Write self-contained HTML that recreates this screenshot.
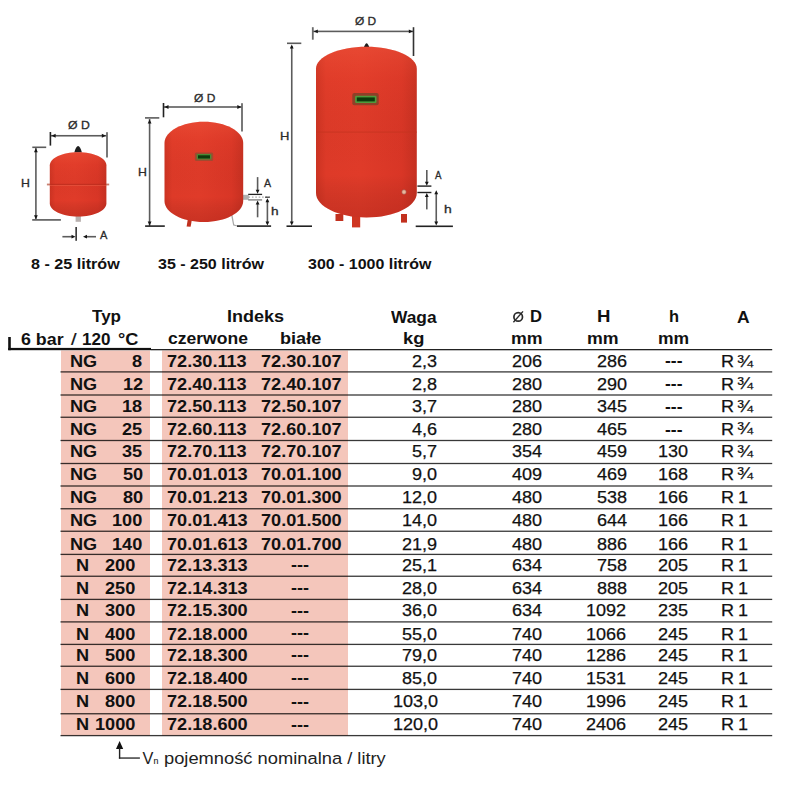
<!DOCTYPE html>
<html><head><meta charset="utf-8"><style>
html,body{margin:0;padding:0;background:#fff;width:800px;height:800px;overflow:hidden;position:relative}
.t{position:absolute;font-family:"Liberation Sans",sans-serif;line-height:1;white-space:pre;transform-origin:0 0}
</style></head><body>
<svg width="800" height="800" viewBox="0 0 800 800" style="position:absolute;left:0;top:0">
<defs>
<linearGradient id="tg" x1="0" y1="0" x2="1" y2="0">
<stop offset="0" stop-color="#cc3322"/><stop offset="0.1" stop-color="#de3a28"/><stop offset="0.45" stop-color="#e03b29"/><stop offset="0.85" stop-color="#d93626"/><stop offset="1" stop-color="#c63021"/>
</linearGradient>
<linearGradient id="tv" x1="0" y1="0" x2="0" y2="1">
<stop offset="0" stop-color="#ff7050" stop-opacity="0.25"/><stop offset="0.2" stop-color="#ff6040" stop-opacity="0.06"/><stop offset="0.75" stop-color="#000" stop-opacity="0"/><stop offset="1" stop-color="#500" stop-opacity="0.15"/>
</linearGradient>
</defs>
<rect x="61" y="350.5" width="89" height="385.10" fill="#f4c6bb"/>
<rect x="162" y="350.5" width="186" height="385.10" fill="#f4c6bb"/>
<rect x="8.2" y="347.9" width="142.8" height="2.3" fill="#111"/>
<rect x="8.2" y="337" width="2.6" height="13.2" fill="#111"/>
<rect x="151" y="349" width="621.2" height="1.3" fill="#222"/>
<rect x="60.5" y="371.25" width="711.7" height="1.3" fill="#000" fill-opacity="0.78"/>
<rect x="60.5" y="394.35" width="711.7" height="1.3" fill="#000" fill-opacity="0.78"/>
<rect x="60.5" y="416.60" width="711.7" height="1.3" fill="#000" fill-opacity="0.78"/>
<rect x="60.5" y="439.85" width="711.7" height="1.3" fill="#000" fill-opacity="0.78"/>
<rect x="60.5" y="462.85" width="711.7" height="1.3" fill="#000" fill-opacity="0.78"/>
<rect x="60.5" y="485.35" width="711.7" height="1.3" fill="#000" fill-opacity="0.78"/>
<rect x="60.5" y="508.10" width="711.7" height="1.3" fill="#000" fill-opacity="0.78"/>
<rect x="60.5" y="530.60" width="711.7" height="1.3" fill="#000" fill-opacity="0.78"/>
<rect x="60.5" y="553.75" width="711.7" height="1.3" fill="#000" fill-opacity="0.78"/>
<rect x="60.5" y="575.60" width="711.7" height="1.3" fill="#000" fill-opacity="0.78"/>
<rect x="60.5" y="598.75" width="711.7" height="1.3" fill="#000" fill-opacity="0.78"/>
<rect x="60.5" y="621.25" width="711.7" height="1.3" fill="#000" fill-opacity="0.78"/>
<rect x="60.5" y="643.75" width="711.7" height="1.3" fill="#000" fill-opacity="0.78"/>
<rect x="60.5" y="665.60" width="711.7" height="1.3" fill="#000" fill-opacity="0.78"/>
<rect x="60.5" y="688.75" width="711.7" height="1.3" fill="#000" fill-opacity="0.78"/>
<rect x="60.5" y="713.10" width="711.7" height="1.3" fill="#000" fill-opacity="0.78"/>
<rect x="60.5" y="734.95" width="711.7" height="1.3" fill="#000" fill-opacity="0.78"/>
<path d="M119.6 741 L116 749 L123.2 749 Z" fill="#111"/>
<rect x="118.9" y="748" width="1.4" height="10.6" fill="#222"/>
<rect x="118.9" y="757.4" width="21" height="1.3" fill="#222"/>
<circle cx="518.2" cy="316.9" r="4.3" fill="none" stroke="#2a2a2a" stroke-width="1.7"/>
<line x1="513.4" y1="322.2" x2="523" y2="311.4" stroke="#2a2a2a" stroke-width="1.4"/>
<path d="M74.3 152.5 C75.3 148.5 76.8 146 78.1 146 C79.4 146 80.9 148.5 81.9 152.5 Z" fill="#1e1e1e"/>
<rect x="75.6" y="214" width="5.3" height="7.8" fill="#b8b0ae"/>
<path d="M49.8,165.2 C49.8,158.024 62.4784,152.2 78.1,152.2 C93.72160000000001,152.2 106.4,158.024 106.4,165.2 L106.4,203.4 C106.4,210.576 93.72160000000001,216.4 78.1,216.4 C62.4784,216.4 49.8,210.576 49.8,203.4 Z" fill="url(#tg)"/>
<path d="M49.8,165.2 C49.8,158.024 62.4784,152.2 78.1,152.2 C93.72160000000001,152.2 106.4,158.024 106.4,165.2 L106.4,203.4 C106.4,210.576 93.72160000000001,216.4 78.1,216.4 C62.4784,216.4 49.8,210.576 49.8,203.4 Z" fill="url(#tv)"/>
<rect x="46.9" y="183.6" width="3.2" height="1.8" fill="#c98070"/>
<rect x="106" y="183.6" width="3.2" height="1.8" fill="#c98070"/>
<rect x="49.8" y="183.8" width="56.6" height="1.2" fill="#b92c1c" opacity="0.7"/>
<rect x="49.8" y="185" width="56.6" height="0.8" fill="#f06a50" opacity="0.5"/>
<rect x="50.4" y="134.95" width="56.60" height="1.6" fill="#5c5c5c"/>
<rect x="49.60" y="132" width="1.6" height="13.60" fill="#222"/>
<rect x="106.10" y="132.2" width="1.8" height="25.30" fill="#6a6a6a"/>
<path d="M51.6,135.75 L55.6,133.85 L55.6,137.65 Z" fill="#151515"/>
<path d="M105.8,135.75 L101.8,133.85 L101.8,137.65 Z" fill="#151515"/>
<rect x="35.10" y="147.5" width="1.6" height="72.40" fill="#5c5c5c"/>
<rect x="32.3" y="146.50" width="13.90" height="1.6" fill="#5c5c5c"/>
<rect x="32.2" y="219.00" width="28.70" height="1.8" fill="#6a6a6a"/>
<path d="M35.9,148.3 L34.0,152.3 L37.8,152.3 Z" fill="#151515"/>
<path d="M35.9,219.2 L34.0,215.2 L37.8,215.2 Z" fill="#151515"/>
<rect x="75.35" y="227" width="1.6" height="13.80" fill="#333"/>
<rect x="62.4" y="235.90" width="10.60" height="1.6" fill="#5c5c5c"/>
<path d="M75.5,236.7 L71.5,234.79999999999998 L71.5,238.6 Z" fill="#151515"/>
<rect x="85" y="235.90" width="11.00" height="1.6" fill="#5c5c5c"/>
<path d="M83,236.7 L87.0,234.79999999999998 L87.0,238.6 Z" fill="#151515"/>
<path d="M188.2 217 L192.3 217.5 L190.6 226.8 L186.6 226.4 Z" fill="#c0301e"/>
<path d="M231 214.5 L232.4 214.5 L234.2 224.6 L237.5 225.6 L237.5 226.6 L233.2 225.6 Z" fill="#a8a8a8"/>
<rect x="242" y="194.8" width="6.8" height="5" fill="#b0b0b0"/>
<path d="M164.5,143.0 C164.5,131.2424 182.1288,121.7 203.85,121.7 C225.57119999999998,121.7 243.2,131.2424 243.2,143.0 L243.2,201 C243.2,212.592 225.57119999999998,222 203.85,222 C182.1288,222 164.5,212.592 164.5,201 Z" fill="url(#tg)"/>
<path d="M164.5,143.0 C164.5,131.2424 182.1288,121.7 203.85,121.7 C225.57119999999998,121.7 243.2,131.2424 243.2,143.0 L243.2,201 C243.2,212.592 225.57119999999998,222 203.85,222 C182.1288,222 164.5,212.592 164.5,201 Z" fill="url(#tv)"/>
<rect x="194.9" y="152.5" width="18.3" height="8.6" rx="1.5" fill="#a04a30"/>
<rect x="196.7" y="154" width="14.7" height="5.6" rx="1" fill="#4a8a35"/>
<rect x="198" y="155.3" width="12" height="3.2" fill="#0e3a0c"/>
<rect x="163.5" y="106.20" width="78.50" height="1.6" fill="#5c5c5c"/>
<rect x="162.70" y="103" width="1.6" height="14.30" fill="#222"/>
<rect x="241.10" y="103.2" width="1.8" height="28.30" fill="#6a6a6a"/>
<path d="M164.5,107 L168.5,105.1 L168.5,108.9 Z" fill="#151515"/>
<path d="M241.3,107 L237.3,105.1 L237.3,108.9 Z" fill="#151515"/>
<rect x="148.80" y="119" width="1.6" height="107.00" fill="#5c5c5c"/>
<rect x="145" y="117.10" width="14.30" height="1.6" fill="#5c5c5c"/>
<rect x="145.1" y="225.30" width="19.70" height="1.6" fill="#222"/>
<path d="M149.6,119.6 L147.7,123.6 L151.5,123.6 Z" fill="#151515"/>
<path d="M149.6,225.6 L147.7,221.6 L151.5,221.6 Z" fill="#151515"/>
<rect x="248.2" y="193.75" width="13.90" height="1.3" fill="#222"/>
<rect x="248.2" y="199.25" width="13.90" height="1.3" fill="#777"/>
<line x1="248.5" y1="197.1" x2="270" y2="197.1" stroke="#888" stroke-width="0.9" stroke-dasharray="1.6,1.8"/>
<rect x="265.1" y="196.60" width="4.60" height="1.2" fill="#333"/>
<rect x="256.80" y="177.1" width="1.6" height="13.90" fill="#5c5c5c"/>
<path d="M257.6,193.8 L255.70000000000002,189.8 L259.5,189.8 Z" fill="#151515"/>
<rect x="256.80" y="203" width="1.6" height="14.30" fill="#5c5c5c"/>
<path d="M257.6,200.4 L255.70000000000002,204.4 L259.5,204.4 Z" fill="#151515"/>
<rect x="266.60" y="200" width="1.6" height="23.50" fill="#5c5c5c"/>
<path d="M267.4,198.2 L265.5,202.2 L269.29999999999995,202.2 Z" fill="#151515"/>
<path d="M267.4,225.6 L265.5,221.6 L269.29999999999995,221.6 Z" fill="#151515"/>
<rect x="237" y="225.30" width="34.10" height="1.6" fill="#222"/>
<path d="M363.6 47.8 C364.6 45 365.8 43.2 366.6 43.2 C367.4 43.2 368.6 45 369.6 47.8 Z" fill="#1e1e1e"/>
<rect x="335.5" y="214" width="7.8" height="7" fill="#c2301e"/>
<rect x="352" y="214" width="8.2" height="13.4" fill="#cf3521"/>
<rect x="401" y="214" width="6" height="8.6" fill="#c2301e"/>
<path d="M316,68.8 C316,56.656 338.5792,46.8 366.4,46.8 C394.2208,46.8 416.8,56.656 416.8,68.8 L416.8,193.0 C416.8,206.524 394.2208,217.5 366.4,217.5 C338.5792,217.5 316,206.524 316,193.0 Z" fill="url(#tg)"/>
<path d="M316,68.8 C316,56.656 338.5792,46.8 366.4,46.8 C394.2208,46.8 416.8,56.656 416.8,68.8 L416.8,193.0 C416.8,206.524 394.2208,217.5 366.4,217.5 C338.5792,217.5 316,206.524 316,193.0 Z" fill="url(#tv)"/>
<rect x="316" y="131.6" width="100.8" height="1" fill="#c4341f" opacity="0.8"/>
<rect x="352.3" y="92.9" width="26.4" height="12.3" rx="2" fill="#8f4028"/>
<rect x="355.1" y="95.7" width="21.4" height="7.3" rx="1.2" fill="#4f9a3c"/>
<rect x="356.8" y="97.4" width="18" height="4" fill="#0c3a0c"/>
<circle cx="404" cy="192" r="2.2" fill="#e9b79c" stroke="#a0605a" stroke-width="0.6"/>
<rect x="313" y="30.60" width="100.50" height="1.6" fill="#5c5c5c"/>
<rect x="311.90" y="27.2" width="1.8" height="12.50" fill="#6a6a6a"/>
<rect x="412.70" y="27.2" width="1.6" height="28.80" fill="#333"/>
<path d="M313.8,31.4 L317.8,29.5 L317.8,33.3 Z" fill="#151515"/>
<path d="M412.8,31.4 L408.8,29.5 L408.8,33.3 Z" fill="#151515"/>
<rect x="290.95" y="46" width="1.6" height="177.00" fill="#5c5c5c"/>
<rect x="287" y="42.50" width="14.30" height="1.6" fill="#5c5c5c"/>
<rect x="286.5" y="225.40" width="25.50" height="1.6" fill="#222"/>
<path d="M291.75,44.4 L289.85,48.4 L293.65,48.4 Z" fill="#151515"/>
<path d="M291.75,225.5 L289.85,221.5 L293.65,221.5 Z" fill="#151515"/>
<rect x="417.4" y="185.40" width="14.00" height="1.4" fill="#222"/>
<rect x="417.4" y="191.80" width="14.00" height="1.4" fill="#222"/>
<rect x="426.00" y="170" width="1.6" height="13.00" fill="#5c5c5c"/>
<path d="M426.8,185.8 L424.90000000000003,181.8 L428.7,181.8 Z" fill="#151515"/>
<rect x="426.00" y="196" width="1.6" height="13.40" fill="#5c5c5c"/>
<path d="M426.8,193 L424.90000000000003,197.0 L428.7,197.0 Z" fill="#151515"/>
<rect x="435.45" y="193" width="1.6" height="29.50" fill="#5c5c5c"/>
<path d="M436.25,190.2 L434.35,194.2 L438.15,194.2 Z" fill="#151515"/>
<path d="M436.25,225.6 L434.35,221.6 L438.15,221.6 Z" fill="#151515"/>
<rect x="415.7" y="225.50" width="37.20" height="1.6" fill="#222"/>
</svg>
<div class="t" style="left:91.50px;top:308.10px;font-weight:bold;font-size:17.2px;color:#111;transform:scaleX(0.9914);">Typ</div><div class="t" style="left:226.55px;top:308.20px;font-weight:bold;font-size:17.2px;color:#111;transform:scaleX(1.0491);">Indeks</div><div class="t" style="left:391.00px;top:308.50px;font-weight:bold;font-size:17.2px;color:#111;transform:scaleX(1.0089);">Waga</div><div class="t" style="left:737.48px;top:308.50px;font-weight:bold;font-size:17.2px;color:#111;transform:scaleX(1.0182);">A</div><div class="t" style="left:596.92px;top:308.30px;font-weight:bold;font-size:17.2px;color:#111;transform:scaleX(1.0800);">H</div><div class="t" style="left:668.64px;top:308.30px;font-weight:bold;font-size:17.2px;color:#111;transform:scaleX(0.9556);">h</div><div class="t" style="left:529.84px;top:308.00px;font-weight:bold;font-size:17.2px;color:#111;transform:scaleX(0.9636);">D</div><div class="t" style="left:21.26px;top:330.80px;font-weight:bold;font-size:17.2px;color:#111;transform:scaleX(1.0375);">6 bar</div><div class="t" style="left:71.00px;top:331.20px;font-weight:normal;font-size:17.2px;color:#111;transform:scaleX(1.1600);-webkit-text-stroke:0.2px #111;">/</div><div class="t" style="left:82.31px;top:330.80px;font-weight:bold;font-size:17.2px;color:#111;transform:scaleX(0.9926);">120</div><div class="t" style="left:117.94px;top:330.90px;font-weight:bold;font-size:17.2px;color:#111;transform:scaleX(1.0588);">°C</div><div class="t" style="left:167.88px;top:329.70px;font-weight:bold;font-size:17.2px;color:#111;transform:scaleX(1.0208);">czerwone</div><div class="t" style="left:280.45px;top:329.70px;font-weight:bold;font-size:17.2px;color:#111;transform:scaleX(1.0526);">białe</div><div class="t" style="left:402.93px;top:330.40px;font-weight:bold;font-size:17.2px;color:#111;transform:scaleX(1.0667);">kg</div><div class="t" style="left:510.97px;top:329.80px;font-weight:bold;font-size:17.2px;color:#111;transform:scaleX(1.0345);">mm</div><div class="t" style="left:587.22px;top:329.80px;font-weight:bold;font-size:17.2px;color:#111;transform:scaleX(1.0328);">mm</div><div class="t" style="left:657.68px;top:329.80px;font-weight:bold;font-size:17.2px;color:#111;transform:scaleX(1.0190);">mm</div><div class="t" style="left:69.74px;top:353.00px;font-weight:bold;font-size:17.2px;color:#111;transform:scaleX(1.0550);">NG</div><div class="t" style="left:132.41px;top:353.00px;font-weight:bold;font-size:17.2px;color:#111;transform:scaleX(1.0550);">8</div><div class="t" style="left:167.14px;top:353.00px;font-weight:bold;font-size:17.2px;color:#111;transform:scaleX(1.0550);">72.30.113</div><div class="t" style="left:260.84px;top:353.00px;font-weight:bold;font-size:17.2px;color:#111;transform:scaleX(1.0550);">72.30.107</div><div class="t" style="left:412.45px;top:353.00px;font-weight:normal;font-size:17.2px;color:#111;transform:scaleX(1.0500);-webkit-text-stroke:0.25px #111;">2,3</div><div class="t" style="left:511.90px;top:353.00px;font-weight:normal;font-size:17.2px;color:#111;transform:scaleX(1.0500);-webkit-text-stroke:0.25px #111;">206</div><div class="t" style="left:596.60px;top:353.00px;font-weight:normal;font-size:17.2px;color:#111;transform:scaleX(1.0500);-webkit-text-stroke:0.25px #111;">286</div><div class="t" style="left:664.73px;top:352.45px;font-weight:bold;font-size:17.2px;color:#111;transform:scaleX(1.0156);">---</div><div class="t" style="left:720.55px;top:353.00px;font-weight:normal;font-size:17.2px;color:#111;transform:scaleX(1.0500);-webkit-text-stroke:0.25px #111;">R</div><div class="t" style="left:736.88px;top:352.50px;font-weight:normal;font-size:17.2px;color:#111;transform:scaleX(1.1231);-webkit-text-stroke:0.2px #111;">¾</div><div class="t" style="left:69.74px;top:375.75px;font-weight:bold;font-size:17.2px;color:#111;transform:scaleX(1.0550);">NG</div><div class="t" style="left:122.91px;top:375.75px;font-weight:bold;font-size:17.2px;color:#111;transform:scaleX(1.0550);">12</div><div class="t" style="left:167.14px;top:375.75px;font-weight:bold;font-size:17.2px;color:#111;transform:scaleX(1.0550);">72.40.113</div><div class="t" style="left:260.84px;top:375.75px;font-weight:bold;font-size:17.2px;color:#111;transform:scaleX(1.0550);">72.40.107</div><div class="t" style="left:412.45px;top:375.75px;font-weight:normal;font-size:17.2px;color:#111;transform:scaleX(1.0500);-webkit-text-stroke:0.25px #111;">2,8</div><div class="t" style="left:511.90px;top:375.75px;font-weight:normal;font-size:17.2px;color:#111;transform:scaleX(1.0500);-webkit-text-stroke:0.25px #111;">280</div><div class="t" style="left:596.60px;top:375.75px;font-weight:normal;font-size:17.2px;color:#111;transform:scaleX(1.0500);-webkit-text-stroke:0.25px #111;">290</div><div class="t" style="left:664.73px;top:375.25px;font-weight:bold;font-size:17.2px;color:#111;transform:scaleX(1.0156);">---</div><div class="t" style="left:720.55px;top:375.75px;font-weight:normal;font-size:17.2px;color:#111;transform:scaleX(1.0500);-webkit-text-stroke:0.25px #111;">R</div><div class="t" style="left:736.88px;top:375.25px;font-weight:normal;font-size:17.2px;color:#111;transform:scaleX(1.1231);-webkit-text-stroke:0.2px #111;">¾</div><div class="t" style="left:69.74px;top:398.00px;font-weight:bold;font-size:17.2px;color:#111;transform:scaleX(1.0550);">NG</div><div class="t" style="left:121.86px;top:398.00px;font-weight:bold;font-size:17.2px;color:#111;transform:scaleX(1.0550);">18</div><div class="t" style="left:167.14px;top:398.00px;font-weight:bold;font-size:17.2px;color:#111;transform:scaleX(1.0550);">72.50.113</div><div class="t" style="left:260.84px;top:398.00px;font-weight:bold;font-size:17.2px;color:#111;transform:scaleX(1.0550);">72.50.107</div><div class="t" style="left:412.45px;top:398.00px;font-weight:normal;font-size:17.2px;color:#111;transform:scaleX(1.0500);-webkit-text-stroke:0.25px #111;">3,7</div><div class="t" style="left:511.90px;top:398.00px;font-weight:normal;font-size:17.2px;color:#111;transform:scaleX(1.0500);-webkit-text-stroke:0.25px #111;">280</div><div class="t" style="left:596.60px;top:398.00px;font-weight:normal;font-size:17.2px;color:#111;transform:scaleX(1.0500);-webkit-text-stroke:0.25px #111;">345</div><div class="t" style="left:664.73px;top:397.93px;font-weight:bold;font-size:17.2px;color:#111;transform:scaleX(1.0156);">---</div><div class="t" style="left:720.55px;top:398.00px;font-weight:normal;font-size:17.2px;color:#111;transform:scaleX(1.0500);-webkit-text-stroke:0.25px #111;">R</div><div class="t" style="left:736.88px;top:397.50px;font-weight:normal;font-size:17.2px;color:#111;transform:scaleX(1.1231);-webkit-text-stroke:0.2px #111;">¾</div><div class="t" style="left:69.74px;top:420.50px;font-weight:bold;font-size:17.2px;color:#111;transform:scaleX(1.0550);">NG</div><div class="t" style="left:121.86px;top:420.50px;font-weight:bold;font-size:17.2px;color:#111;transform:scaleX(1.0550);">25</div><div class="t" style="left:167.14px;top:420.50px;font-weight:bold;font-size:17.2px;color:#111;transform:scaleX(1.0550);">72.60.113</div><div class="t" style="left:260.84px;top:420.50px;font-weight:bold;font-size:17.2px;color:#111;transform:scaleX(1.0550);">72.60.107</div><div class="t" style="left:412.45px;top:420.50px;font-weight:normal;font-size:17.2px;color:#111;transform:scaleX(1.0500);-webkit-text-stroke:0.25px #111;">4,6</div><div class="t" style="left:511.90px;top:420.50px;font-weight:normal;font-size:17.2px;color:#111;transform:scaleX(1.0500);-webkit-text-stroke:0.25px #111;">280</div><div class="t" style="left:596.60px;top:420.50px;font-weight:normal;font-size:17.2px;color:#111;transform:scaleX(1.0500);-webkit-text-stroke:0.25px #111;">465</div><div class="t" style="left:664.73px;top:420.68px;font-weight:bold;font-size:17.2px;color:#111;transform:scaleX(1.0156);">---</div><div class="t" style="left:720.55px;top:420.50px;font-weight:normal;font-size:17.2px;color:#111;transform:scaleX(1.0500);-webkit-text-stroke:0.25px #111;">R</div><div class="t" style="left:736.88px;top:420.00px;font-weight:normal;font-size:17.2px;color:#111;transform:scaleX(1.1231);-webkit-text-stroke:0.2px #111;">¾</div><div class="t" style="left:69.74px;top:443.00px;font-weight:bold;font-size:17.2px;color:#111;transform:scaleX(1.0550);">NG</div><div class="t" style="left:121.86px;top:443.00px;font-weight:bold;font-size:17.2px;color:#111;transform:scaleX(1.0550);">35</div><div class="t" style="left:167.14px;top:443.00px;font-weight:bold;font-size:17.2px;color:#111;transform:scaleX(1.0550);">72.70.113</div><div class="t" style="left:260.84px;top:443.00px;font-weight:bold;font-size:17.2px;color:#111;transform:scaleX(1.0550);">72.70.107</div><div class="t" style="left:412.45px;top:443.00px;font-weight:normal;font-size:17.2px;color:#111;transform:scaleX(1.0500);-webkit-text-stroke:0.25px #111;">5,7</div><div class="t" style="left:511.90px;top:443.00px;font-weight:normal;font-size:17.2px;color:#111;transform:scaleX(1.0500);-webkit-text-stroke:0.25px #111;">354</div><div class="t" style="left:596.60px;top:443.00px;font-weight:normal;font-size:17.2px;color:#111;transform:scaleX(1.0500);-webkit-text-stroke:0.25px #111;">459</div><div class="t" style="left:658.20px;top:443.00px;font-weight:normal;font-size:17.2px;color:#111;transform:scaleX(1.0500);-webkit-text-stroke:0.25px #111;">130</div><div class="t" style="left:720.55px;top:443.00px;font-weight:normal;font-size:17.2px;color:#111;transform:scaleX(1.0500);-webkit-text-stroke:0.25px #111;">R</div><div class="t" style="left:736.88px;top:442.50px;font-weight:normal;font-size:17.2px;color:#111;transform:scaleX(1.1231);-webkit-text-stroke:0.2px #111;">¾</div><div class="t" style="left:69.74px;top:465.50px;font-weight:bold;font-size:17.2px;color:#111;transform:scaleX(1.0550);">NG</div><div class="t" style="left:122.91px;top:465.50px;font-weight:bold;font-size:17.2px;color:#111;transform:scaleX(1.0550);">50</div><div class="t" style="left:167.14px;top:465.50px;font-weight:bold;font-size:17.2px;color:#111;transform:scaleX(1.0550);">70.01.013</div><div class="t" style="left:260.84px;top:465.50px;font-weight:bold;font-size:17.2px;color:#111;transform:scaleX(1.0550);">70.01.100</div><div class="t" style="left:412.45px;top:465.50px;font-weight:normal;font-size:17.2px;color:#111;transform:scaleX(1.0500);-webkit-text-stroke:0.25px #111;">9,0</div><div class="t" style="left:511.90px;top:465.50px;font-weight:normal;font-size:17.2px;color:#111;transform:scaleX(1.0500);-webkit-text-stroke:0.25px #111;">409</div><div class="t" style="left:596.60px;top:465.50px;font-weight:normal;font-size:17.2px;color:#111;transform:scaleX(1.0500);-webkit-text-stroke:0.25px #111;">469</div><div class="t" style="left:658.20px;top:465.50px;font-weight:normal;font-size:17.2px;color:#111;transform:scaleX(1.0500);-webkit-text-stroke:0.25px #111;">168</div><div class="t" style="left:720.55px;top:465.50px;font-weight:normal;font-size:17.2px;color:#111;transform:scaleX(1.0500);-webkit-text-stroke:0.25px #111;">R</div><div class="t" style="left:736.88px;top:465.00px;font-weight:normal;font-size:17.2px;color:#111;transform:scaleX(1.1231);-webkit-text-stroke:0.2px #111;">¾</div><div class="t" style="left:69.74px;top:488.60px;font-weight:bold;font-size:17.2px;color:#111;transform:scaleX(1.0550);">NG</div><div class="t" style="left:122.91px;top:488.60px;font-weight:bold;font-size:17.2px;color:#111;transform:scaleX(1.0550);">80</div><div class="t" style="left:167.14px;top:488.60px;font-weight:bold;font-size:17.2px;color:#111;transform:scaleX(1.0550);">70.01.213</div><div class="t" style="left:260.84px;top:488.60px;font-weight:bold;font-size:17.2px;color:#111;transform:scaleX(1.0550);">70.01.300</div><div class="t" style="left:401.95px;top:488.60px;font-weight:normal;font-size:17.2px;color:#111;transform:scaleX(1.0500);-webkit-text-stroke:0.25px #111;">12,0</div><div class="t" style="left:511.90px;top:488.60px;font-weight:normal;font-size:17.2px;color:#111;transform:scaleX(1.0500);-webkit-text-stroke:0.25px #111;">480</div><div class="t" style="left:596.60px;top:488.60px;font-weight:normal;font-size:17.2px;color:#111;transform:scaleX(1.0500);-webkit-text-stroke:0.25px #111;">538</div><div class="t" style="left:658.20px;top:488.60px;font-weight:normal;font-size:17.2px;color:#111;transform:scaleX(1.0500);-webkit-text-stroke:0.25px #111;">166</div><div class="t" style="left:720.55px;top:488.60px;font-weight:normal;font-size:17.2px;color:#111;transform:scaleX(1.0500);-webkit-text-stroke:0.25px #111;">R</div><div class="t" style="left:737.55px;top:488.60px;font-weight:normal;font-size:17.2px;color:#111;transform:scaleX(1.0500);-webkit-text-stroke:0.25px #111;">1</div><div class="t" style="left:69.74px;top:511.75px;font-weight:bold;font-size:17.2px;color:#111;transform:scaleX(1.0550);">NG</div><div class="t" style="left:112.36px;top:511.75px;font-weight:bold;font-size:17.2px;color:#111;transform:scaleX(1.0550);">100</div><div class="t" style="left:167.14px;top:511.75px;font-weight:bold;font-size:17.2px;color:#111;transform:scaleX(1.0550);">70.01.413</div><div class="t" style="left:260.84px;top:511.75px;font-weight:bold;font-size:17.2px;color:#111;transform:scaleX(1.0550);">70.01.500</div><div class="t" style="left:401.95px;top:511.75px;font-weight:normal;font-size:17.2px;color:#111;transform:scaleX(1.0500);-webkit-text-stroke:0.25px #111;">14,0</div><div class="t" style="left:511.90px;top:511.75px;font-weight:normal;font-size:17.2px;color:#111;transform:scaleX(1.0500);-webkit-text-stroke:0.25px #111;">480</div><div class="t" style="left:596.60px;top:511.75px;font-weight:normal;font-size:17.2px;color:#111;transform:scaleX(1.0500);-webkit-text-stroke:0.25px #111;">644</div><div class="t" style="left:658.20px;top:511.75px;font-weight:normal;font-size:17.2px;color:#111;transform:scaleX(1.0500);-webkit-text-stroke:0.25px #111;">166</div><div class="t" style="left:720.55px;top:511.75px;font-weight:normal;font-size:17.2px;color:#111;transform:scaleX(1.0500);-webkit-text-stroke:0.25px #111;">R</div><div class="t" style="left:737.55px;top:511.75px;font-weight:normal;font-size:17.2px;color:#111;transform:scaleX(1.0500);-webkit-text-stroke:0.25px #111;">1</div><div class="t" style="left:69.74px;top:535.50px;font-weight:bold;font-size:17.2px;color:#111;transform:scaleX(1.0550);">NG</div><div class="t" style="left:112.36px;top:535.50px;font-weight:bold;font-size:17.2px;color:#111;transform:scaleX(1.0550);">140</div><div class="t" style="left:167.14px;top:535.50px;font-weight:bold;font-size:17.2px;color:#111;transform:scaleX(1.0550);">70.01.613</div><div class="t" style="left:260.84px;top:535.50px;font-weight:bold;font-size:17.2px;color:#111;transform:scaleX(1.0550);">70.01.700</div><div class="t" style="left:401.95px;top:535.50px;font-weight:normal;font-size:17.2px;color:#111;transform:scaleX(1.0500);-webkit-text-stroke:0.25px #111;">21,9</div><div class="t" style="left:511.90px;top:535.50px;font-weight:normal;font-size:17.2px;color:#111;transform:scaleX(1.0500);-webkit-text-stroke:0.25px #111;">480</div><div class="t" style="left:596.60px;top:535.50px;font-weight:normal;font-size:17.2px;color:#111;transform:scaleX(1.0500);-webkit-text-stroke:0.25px #111;">886</div><div class="t" style="left:658.20px;top:535.50px;font-weight:normal;font-size:17.2px;color:#111;transform:scaleX(1.0500);-webkit-text-stroke:0.25px #111;">166</div><div class="t" style="left:720.55px;top:535.50px;font-weight:normal;font-size:17.2px;color:#111;transform:scaleX(1.0500);-webkit-text-stroke:0.25px #111;">R</div><div class="t" style="left:737.55px;top:535.50px;font-weight:normal;font-size:17.2px;color:#111;transform:scaleX(1.0500);-webkit-text-stroke:0.25px #111;">1</div><div class="t" style="left:76.34px;top:557.40px;font-weight:bold;font-size:17.2px;color:#111;transform:scaleX(1.0550);">N</div><div class="t" style="left:105.21px;top:557.40px;font-weight:bold;font-size:17.2px;color:#111;transform:scaleX(1.0550);">200</div><div class="t" style="left:167.14px;top:557.40px;font-weight:bold;font-size:17.2px;color:#111;transform:scaleX(1.0550);">72.13.313</div><div class="t" style="left:291.20px;top:556.33px;font-weight:bold;font-size:17.2px;color:#111;transform:scaleX(1.0469);">---</div><div class="t" style="left:401.95px;top:557.40px;font-weight:normal;font-size:17.2px;color:#111;transform:scaleX(1.0500);-webkit-text-stroke:0.25px #111;">25,1</div><div class="t" style="left:511.90px;top:557.40px;font-weight:normal;font-size:17.2px;color:#111;transform:scaleX(1.0500);-webkit-text-stroke:0.25px #111;">634</div><div class="t" style="left:596.60px;top:557.40px;font-weight:normal;font-size:17.2px;color:#111;transform:scaleX(1.0500);-webkit-text-stroke:0.25px #111;">758</div><div class="t" style="left:658.20px;top:557.40px;font-weight:normal;font-size:17.2px;color:#111;transform:scaleX(1.0500);-webkit-text-stroke:0.25px #111;">205</div><div class="t" style="left:720.55px;top:557.40px;font-weight:normal;font-size:17.2px;color:#111;transform:scaleX(1.0500);-webkit-text-stroke:0.25px #111;">R</div><div class="t" style="left:737.55px;top:557.40px;font-weight:normal;font-size:17.2px;color:#111;transform:scaleX(1.0500);-webkit-text-stroke:0.25px #111;">1</div><div class="t" style="left:76.34px;top:579.90px;font-weight:bold;font-size:17.2px;color:#111;transform:scaleX(1.0550);">N</div><div class="t" style="left:105.21px;top:579.90px;font-weight:bold;font-size:17.2px;color:#111;transform:scaleX(1.0550);">250</div><div class="t" style="left:167.14px;top:579.90px;font-weight:bold;font-size:17.2px;color:#111;transform:scaleX(1.0550);">72.14.313</div><div class="t" style="left:291.20px;top:578.83px;font-weight:bold;font-size:17.2px;color:#111;transform:scaleX(1.0469);">---</div><div class="t" style="left:401.95px;top:579.90px;font-weight:normal;font-size:17.2px;color:#111;transform:scaleX(1.0500);-webkit-text-stroke:0.25px #111;">28,0</div><div class="t" style="left:511.90px;top:579.90px;font-weight:normal;font-size:17.2px;color:#111;transform:scaleX(1.0500);-webkit-text-stroke:0.25px #111;">634</div><div class="t" style="left:596.60px;top:579.90px;font-weight:normal;font-size:17.2px;color:#111;transform:scaleX(1.0500);-webkit-text-stroke:0.25px #111;">888</div><div class="t" style="left:658.20px;top:579.90px;font-weight:normal;font-size:17.2px;color:#111;transform:scaleX(1.0500);-webkit-text-stroke:0.25px #111;">205</div><div class="t" style="left:720.55px;top:579.90px;font-weight:normal;font-size:17.2px;color:#111;transform:scaleX(1.0500);-webkit-text-stroke:0.25px #111;">R</div><div class="t" style="left:737.55px;top:579.90px;font-weight:normal;font-size:17.2px;color:#111;transform:scaleX(1.0500);-webkit-text-stroke:0.25px #111;">1</div><div class="t" style="left:76.34px;top:602.40px;font-weight:bold;font-size:17.2px;color:#111;transform:scaleX(1.0550);">N</div><div class="t" style="left:105.21px;top:602.40px;font-weight:bold;font-size:17.2px;color:#111;transform:scaleX(1.0550);">300</div><div class="t" style="left:167.14px;top:602.40px;font-weight:bold;font-size:17.2px;color:#111;transform:scaleX(1.0550);">72.15.300</div><div class="t" style="left:291.20px;top:601.65px;font-weight:bold;font-size:17.2px;color:#111;transform:scaleX(1.0469);">---</div><div class="t" style="left:401.95px;top:602.40px;font-weight:normal;font-size:17.2px;color:#111;transform:scaleX(1.0500);-webkit-text-stroke:0.25px #111;">36,0</div><div class="t" style="left:511.90px;top:602.40px;font-weight:normal;font-size:17.2px;color:#111;transform:scaleX(1.0500);-webkit-text-stroke:0.25px #111;">634</div><div class="t" style="left:586.10px;top:602.40px;font-weight:normal;font-size:17.2px;color:#111;transform:scaleX(1.0500);-webkit-text-stroke:0.25px #111;">1092</div><div class="t" style="left:658.20px;top:602.40px;font-weight:normal;font-size:17.2px;color:#111;transform:scaleX(1.0500);-webkit-text-stroke:0.25px #111;">235</div><div class="t" style="left:720.55px;top:602.40px;font-weight:normal;font-size:17.2px;color:#111;transform:scaleX(1.0500);-webkit-text-stroke:0.25px #111;">R</div><div class="t" style="left:737.55px;top:602.40px;font-weight:normal;font-size:17.2px;color:#111;transform:scaleX(1.0500);-webkit-text-stroke:0.25px #111;">1</div><div class="t" style="left:76.34px;top:625.50px;font-weight:bold;font-size:17.2px;color:#111;transform:scaleX(1.0550);">N</div><div class="t" style="left:105.21px;top:625.50px;font-weight:bold;font-size:17.2px;color:#111;transform:scaleX(1.0550);">400</div><div class="t" style="left:167.14px;top:625.50px;font-weight:bold;font-size:17.2px;color:#111;transform:scaleX(1.0550);">72.18.000</div><div class="t" style="left:291.20px;top:624.15px;font-weight:bold;font-size:17.2px;color:#111;transform:scaleX(1.0469);">---</div><div class="t" style="left:401.95px;top:625.50px;font-weight:normal;font-size:17.2px;color:#111;transform:scaleX(1.0500);-webkit-text-stroke:0.25px #111;">55,0</div><div class="t" style="left:511.90px;top:625.50px;font-weight:normal;font-size:17.2px;color:#111;transform:scaleX(1.0500);-webkit-text-stroke:0.25px #111;">740</div><div class="t" style="left:586.10px;top:625.50px;font-weight:normal;font-size:17.2px;color:#111;transform:scaleX(1.0500);-webkit-text-stroke:0.25px #111;">1066</div><div class="t" style="left:658.20px;top:625.50px;font-weight:normal;font-size:17.2px;color:#111;transform:scaleX(1.0500);-webkit-text-stroke:0.25px #111;">245</div><div class="t" style="left:720.55px;top:625.50px;font-weight:normal;font-size:17.2px;color:#111;transform:scaleX(1.0500);-webkit-text-stroke:0.25px #111;">R</div><div class="t" style="left:737.55px;top:625.50px;font-weight:normal;font-size:17.2px;color:#111;transform:scaleX(1.0500);-webkit-text-stroke:0.25px #111;">1</div><div class="t" style="left:76.34px;top:647.40px;font-weight:bold;font-size:17.2px;color:#111;transform:scaleX(1.0550);">N</div><div class="t" style="left:105.21px;top:647.40px;font-weight:bold;font-size:17.2px;color:#111;transform:scaleX(1.0550);">500</div><div class="t" style="left:167.14px;top:647.40px;font-weight:bold;font-size:17.2px;color:#111;transform:scaleX(1.0550);">72.18.300</div><div class="t" style="left:291.20px;top:646.33px;font-weight:bold;font-size:17.2px;color:#111;transform:scaleX(1.0469);">---</div><div class="t" style="left:401.95px;top:647.40px;font-weight:normal;font-size:17.2px;color:#111;transform:scaleX(1.0500);-webkit-text-stroke:0.25px #111;">79,0</div><div class="t" style="left:511.90px;top:647.40px;font-weight:normal;font-size:17.2px;color:#111;transform:scaleX(1.0500);-webkit-text-stroke:0.25px #111;">740</div><div class="t" style="left:586.10px;top:647.40px;font-weight:normal;font-size:17.2px;color:#111;transform:scaleX(1.0500);-webkit-text-stroke:0.25px #111;">1286</div><div class="t" style="left:658.20px;top:647.40px;font-weight:normal;font-size:17.2px;color:#111;transform:scaleX(1.0500);-webkit-text-stroke:0.25px #111;">245</div><div class="t" style="left:720.55px;top:647.40px;font-weight:normal;font-size:17.2px;color:#111;transform:scaleX(1.0500);-webkit-text-stroke:0.25px #111;">R</div><div class="t" style="left:737.55px;top:647.40px;font-weight:normal;font-size:17.2px;color:#111;transform:scaleX(1.0500);-webkit-text-stroke:0.25px #111;">1</div><div class="t" style="left:76.34px;top:669.90px;font-weight:bold;font-size:17.2px;color:#111;transform:scaleX(1.0550);">N</div><div class="t" style="left:105.21px;top:669.90px;font-weight:bold;font-size:17.2px;color:#111;transform:scaleX(1.0550);">600</div><div class="t" style="left:167.14px;top:669.90px;font-weight:bold;font-size:17.2px;color:#111;transform:scaleX(1.0550);">72.18.400</div><div class="t" style="left:291.20px;top:668.83px;font-weight:bold;font-size:17.2px;color:#111;transform:scaleX(1.0469);">---</div><div class="t" style="left:401.95px;top:669.90px;font-weight:normal;font-size:17.2px;color:#111;transform:scaleX(1.0500);-webkit-text-stroke:0.25px #111;">85,0</div><div class="t" style="left:511.90px;top:669.90px;font-weight:normal;font-size:17.2px;color:#111;transform:scaleX(1.0500);-webkit-text-stroke:0.25px #111;">740</div><div class="t" style="left:586.10px;top:669.90px;font-weight:normal;font-size:17.2px;color:#111;transform:scaleX(1.0500);-webkit-text-stroke:0.25px #111;">1531</div><div class="t" style="left:658.20px;top:669.90px;font-weight:normal;font-size:17.2px;color:#111;transform:scaleX(1.0500);-webkit-text-stroke:0.25px #111;">245</div><div class="t" style="left:720.55px;top:669.90px;font-weight:normal;font-size:17.2px;color:#111;transform:scaleX(1.0500);-webkit-text-stroke:0.25px #111;">R</div><div class="t" style="left:737.55px;top:669.90px;font-weight:normal;font-size:17.2px;color:#111;transform:scaleX(1.0500);-webkit-text-stroke:0.25px #111;">1</div><div class="t" style="left:76.34px;top:692.60px;font-weight:bold;font-size:17.2px;color:#111;transform:scaleX(1.0550);">N</div><div class="t" style="left:105.21px;top:692.60px;font-weight:bold;font-size:17.2px;color:#111;transform:scaleX(1.0550);">800</div><div class="t" style="left:167.14px;top:692.60px;font-weight:bold;font-size:17.2px;color:#111;transform:scaleX(1.0550);">72.18.500</div><div class="t" style="left:291.20px;top:692.58px;font-weight:bold;font-size:17.2px;color:#111;transform:scaleX(1.0469);">---</div><div class="t" style="left:392.50px;top:692.60px;font-weight:normal;font-size:17.2px;color:#111;transform:scaleX(1.0500);-webkit-text-stroke:0.25px #111;">103,0</div><div class="t" style="left:511.90px;top:692.60px;font-weight:normal;font-size:17.2px;color:#111;transform:scaleX(1.0500);-webkit-text-stroke:0.25px #111;">740</div><div class="t" style="left:586.10px;top:692.60px;font-weight:normal;font-size:17.2px;color:#111;transform:scaleX(1.0500);-webkit-text-stroke:0.25px #111;">1996</div><div class="t" style="left:658.20px;top:692.60px;font-weight:normal;font-size:17.2px;color:#111;transform:scaleX(1.0500);-webkit-text-stroke:0.25px #111;">245</div><div class="t" style="left:720.55px;top:692.60px;font-weight:normal;font-size:17.2px;color:#111;transform:scaleX(1.0500);-webkit-text-stroke:0.25px #111;">R</div><div class="t" style="left:737.55px;top:692.60px;font-weight:normal;font-size:17.2px;color:#111;transform:scaleX(1.0500);-webkit-text-stroke:0.25px #111;">1</div><div class="t" style="left:76.34px;top:716.30px;font-weight:bold;font-size:17.2px;color:#111;transform:scaleX(1.0550);">N</div><div class="t" style="left:94.66px;top:716.30px;font-weight:bold;font-size:17.2px;color:#111;transform:scaleX(1.0550);">1000</div><div class="t" style="left:167.14px;top:716.30px;font-weight:bold;font-size:17.2px;color:#111;transform:scaleX(1.0550);">72.18.600</div><div class="t" style="left:291.20px;top:715.67px;font-weight:bold;font-size:17.2px;color:#111;transform:scaleX(1.0469);">---</div><div class="t" style="left:392.50px;top:716.30px;font-weight:normal;font-size:17.2px;color:#111;transform:scaleX(1.0500);-webkit-text-stroke:0.25px #111;">120,0</div><div class="t" style="left:511.90px;top:716.30px;font-weight:normal;font-size:17.2px;color:#111;transform:scaleX(1.0500);-webkit-text-stroke:0.25px #111;">740</div><div class="t" style="left:586.10px;top:716.30px;font-weight:normal;font-size:17.2px;color:#111;transform:scaleX(1.0500);-webkit-text-stroke:0.25px #111;">2406</div><div class="t" style="left:658.20px;top:716.30px;font-weight:normal;font-size:17.2px;color:#111;transform:scaleX(1.0500);-webkit-text-stroke:0.25px #111;">245</div><div class="t" style="left:720.55px;top:716.30px;font-weight:normal;font-size:17.2px;color:#111;transform:scaleX(1.0500);-webkit-text-stroke:0.25px #111;">R</div><div class="t" style="left:737.55px;top:716.30px;font-weight:normal;font-size:17.2px;color:#111;transform:scaleX(1.0500);-webkit-text-stroke:0.25px #111;">1</div><div class="t" style="left:142.40px;top:750.20px;font-weight:normal;font-size:16.3px;color:#222;">V</div><div class="t" style="left:153.60px;top:756.60px;font-weight:normal;font-size:8.8px;color:#222;-webkit-text-stroke:0.12px #222;">n</div><div class="t" style="left:164.13px;top:749.90px;font-weight:normal;font-size:16.3px;color:#222;transform:scaleX(1.1242);">pojemność nominalna / litry</div><div class="t" style="left:31.26px;top:256.70px;font-weight:bold;font-size:14.2px;color:#111;transform:scaleX(1.1364);">8 - 25 litrów</div><div class="t" style="left:158.27px;top:256.70px;font-weight:bold;font-size:14.2px;color:#111;transform:scaleX(1.1290);">35 - 250 litrów</div><div class="t" style="left:308.08px;top:256.50px;font-weight:bold;font-size:14.2px;color:#111;transform:scaleX(1.1248);">300 - 1000 litrów</div><div class="t" style="left:68.21px;top:120.00px;font-weight:normal;font-size:11.8px;color:#2a2a2a;transform:scaleX(1.0375);-webkit-text-stroke:0.3px #2a2a2a;">Ø D</div><div class="t" style="left:21.06px;top:178.20px;font-weight:normal;font-size:11.8px;color:#2a2a2a;transform:scaleX(1.0429);-webkit-text-stroke:0.3px #2a2a2a;">H</div><div class="t" style="left:99.90px;top:229.80px;font-weight:normal;font-size:11.8px;color:#2a2a2a;transform:scaleX(0.9375);-webkit-text-stroke:0.3px #2a2a2a;">A</div><div class="t" style="left:193.69px;top:92.75px;font-weight:normal;font-size:11.8px;color:#2a2a2a;transform:scaleX(1.0150);-webkit-text-stroke:0.3px #2a2a2a;">Ø D</div><div class="t" style="left:137.76px;top:167.25px;font-weight:normal;font-size:11.8px;color:#2a2a2a;transform:scaleX(1.0429);-webkit-text-stroke:0.3px #2a2a2a;">H</div><div class="t" style="left:263.90px;top:178.00px;font-weight:normal;font-size:11.8px;color:#2a2a2a;transform:scaleX(0.9000);-webkit-text-stroke:0.3px #2a2a2a;">A</div><div class="t" style="left:270.94px;top:205.75px;font-weight:normal;font-size:11.8px;color:#2a2a2a;transform:scaleX(1.1600);-webkit-text-stroke:0.3px #2a2a2a;">h</div><div class="t" style="left:354.74px;top:16.10px;font-weight:normal;font-size:11.8px;color:#2a2a2a;transform:scaleX(1.0125);-webkit-text-stroke:0.3px #2a2a2a;">Ø D</div><div class="t" style="left:279.90px;top:130.90px;font-weight:normal;font-size:11.8px;color:#2a2a2a;transform:scaleX(1.1000);-webkit-text-stroke:0.3px #2a2a2a;">H</div><div class="t" style="left:434.90px;top:170.40px;font-weight:normal;font-size:11.8px;color:#2a2a2a;transform:scaleX(0.8250);-webkit-text-stroke:0.3px #2a2a2a;">A</div><div class="t" style="left:443.62px;top:204.00px;font-weight:normal;font-size:11.8px;color:#2a2a2a;transform:scaleX(1.1800);-webkit-text-stroke:0.3px #2a2a2a;">h</div>
</body></html>
